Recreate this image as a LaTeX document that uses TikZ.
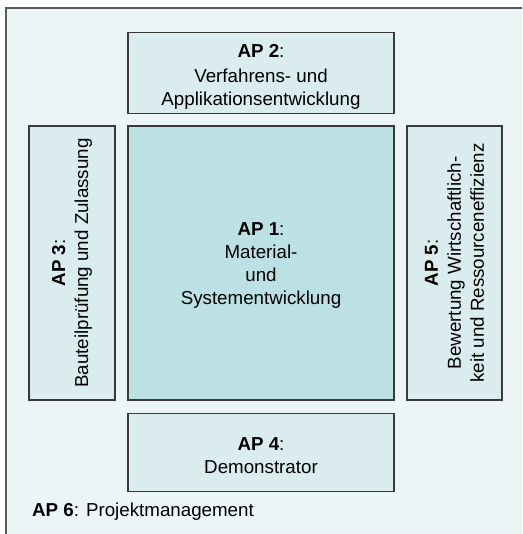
\documentclass[tikz,border=0pt]{standalone}
\usepackage{fontspec}
\setmainfont{Liberation Sans}
\definecolor{bgc}{HTML}{ECF5F6}
\definecolor{boxfill}{HTML}{DAECEE}
\definecolor{corefill}{HTML}{BCE1E4}
\definecolor{boxline}{HTML}{3A3A3A}
\definecolor{framec}{HTML}{5A5A5A}
\newcommand{\apfont}{\fontsize{18.75}{23}\selectfont}
\newcommand{\lift}[1]{\rule{0pt}{#1}}
\tikzset{
  wp/.style={draw=boxline, line width=1.2pt, fill=boxfill, inner sep=0pt,
             align=center, font=\apfont, text=black},
  corewp/.style={wp, fill=corefill}
}
\begin{document}
\begin{tikzpicture}[x=1pt, y=-1pt]
\useasboundingbox (0,0) rectangle (522,534);
\clip (0,0) rectangle (522,534);
\fill[white] (0,0) rectangle (522,534);
\draw[framec, line width=2pt, fill=bgc] (6,8) rectangle (540,552);

\node[wp, minimum width=266pt, minimum height=80.5pt] (ap2) at (261,73)
  {\lift{21pt}\textbf{AP 2}:\\[2pt] Verfahrens- und\\ Applikationsentwicklung};
\node[corewp, minimum width=266pt, minimum height=274pt] (ap1) at (261,263)
  {\lift{17.5pt}\textbf{AP 1}:\\ Material-\\ und\\ Systementwicklung};
\node[wp, rotate=90, minimum width=274pt, minimum height=86pt] (ap3) at (72,263)
  {\textbf{AP 3}:\\ Bauteilprüfung und Zulassung};
\node[wp, rotate=90, minimum width=274pt, minimum height=95pt] (ap5) at (454.5,263)
  {\textbf{AP 5}:\\ Bewertung Wirtschaftlich-\\ keit und Ressourceneffizienz};
\node[wp, minimum width=266pt, minimum height=77.5pt] (ap4) at (261,452.5)
  {\lift{19.5pt}\textbf{AP 4}:\\ Demonstrator};
\node[anchor=base west, inner sep=0pt, font=\apfont] (ap6) at (32,516)
  {\textbf{AP 6}: Projektmanagement};
\end{tikzpicture}
\end{document}
